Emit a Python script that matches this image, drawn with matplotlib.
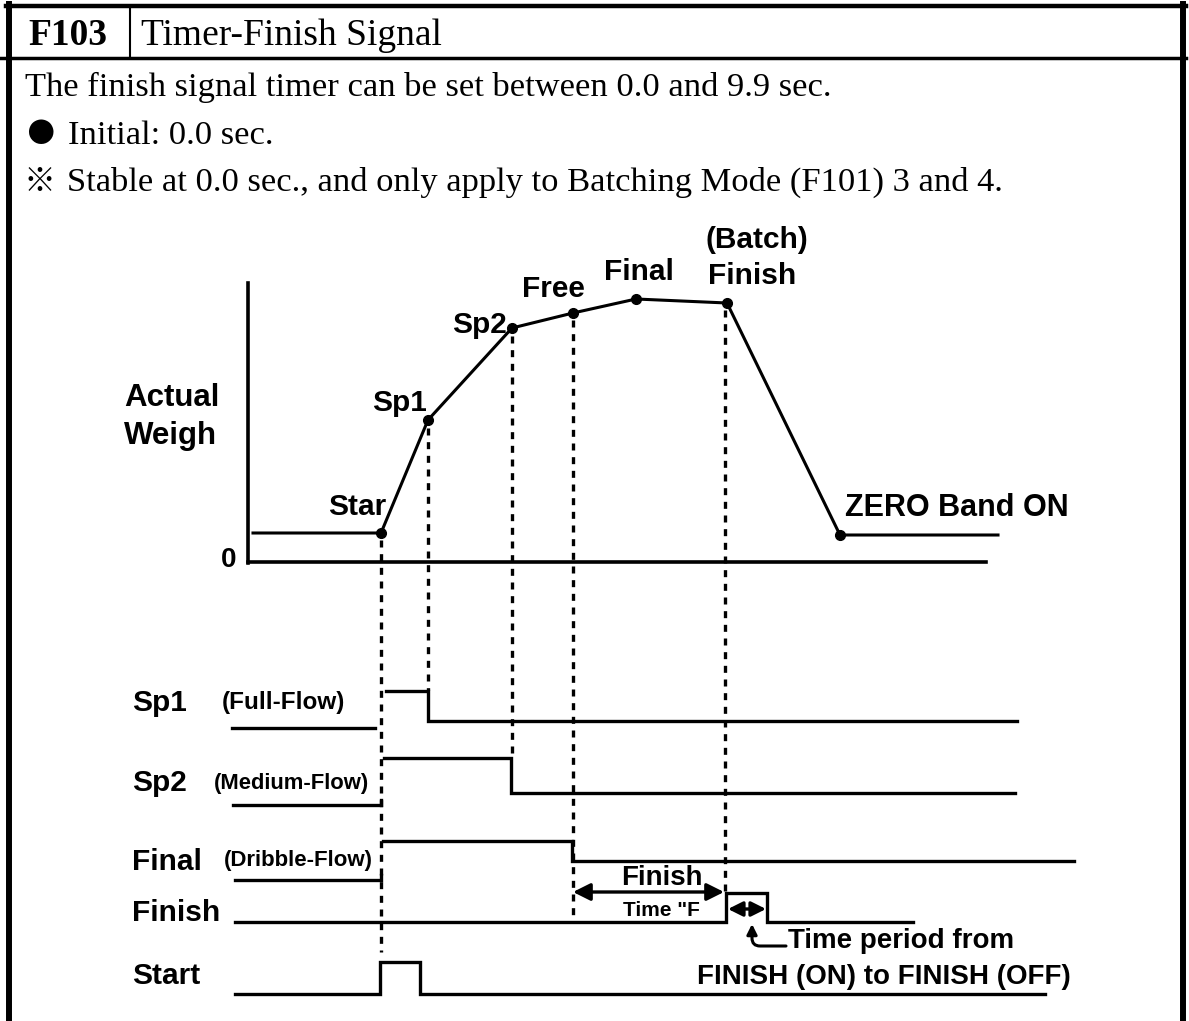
import matplotlib.pyplot as plt

W, H = 1189, 1021

# weight curve: time position and weight level (px rows)
curve_t = [253, 381, 428, 512, 573, 636, 727, 840, 998]
curve_w = [533, 533, 420, 328, 313, 299, 303, 535, 535]
dot_t = curve_t[1:8]
dot_w = curve_w[1:8]

# dashed guide lines: time, top, bottom
guide_t = [381, 428, 512, 573, 725]
guide_top = [540, 428, 336, 320, 310]
guide_bot = [952, 690, 758, 922, 893]

# timing signals (low part before start, main part)
sp1_pre = ([232, 375], [728, 728])
sp1_t = [386, 428, 428, 1017]
sp1_v = [691, 691, 721, 721]
sp2_pre = ([233, 381, 381], [805, 805, 800])
sp2_t = [384, 511, 511, 1015]
sp2_v = [758, 758, 793, 793]
fin_pre = ([235, 381, 381], [880, 880, 875])
fin_t = [383, 572, 572, 1074]
fin_v = [841, 841, 861, 861]
finish_t = [235, 726, 726, 767, 767, 913]
finish_v = [922, 922, 893, 893, 922, 922]
start_t = [235, 380, 380, 420, 420, 1045]
start_v = [994, 994, 962, 962, 994, 994]

serif = ['Liberation Serif', 'Noto Sans CJK JP', 'DejaVu Sans']
sans = ['Liberation Sans', 'DejaVu Sans']

fig = plt.figure(figsize=(W / 100, H / 100), dpi=100)
ax = fig.add_axes([0, 0, 1, 1])
ax.set_xlim(0, W)
ax.set_ylim(H, 0)
ax.axis('off')

k = 'black'
# frame
ax.plot([6, 1186], [6, 6], color=k, lw=3.2)
ax.plot([0, 1186], [58, 58], color=k, lw=2.5)
ax.plot([9, 9], [4, H], color=k, lw=4.3)
ax.plot([1183, 1183], [4, H], color=k, lw=4.3)
ax.plot([130, 130], [6, 58], color=k, lw=1.5)

ax.text(68, 45, 'F103', family=serif, weight='bold', fontsize=27, ha='center', va='baseline')
ax.text(141, 45, 'Timer-Finish Signal', family=serif, fontsize=27, va='baseline')
ax.text(25, 96, 'The finish signal timer can be set between 0.0 and 9.9 sec.',
        family=serif, fontsize=24.8, va='baseline')
ax.text(40, 134, '\u25cf', family=serif, fontsize=41, ha='center', va='center')
ax.text(68, 144, 'Initial: 0.0 sec.', family=serif, fontsize=24.8, va='baseline')
ax.text(40, 182, '\u203b', family=['Noto Sans CJK JP', 'DejaVu Sans'], fontsize=23,
        ha='center', va='center')
ax.text(67, 191, 'Stable at 0.0 sec., and only apply to Batching Mode (F101) 3 and 4.',
        family=serif, fontsize=24.8, va='baseline')

# weight axes
ax.plot([248, 248], [283, 563], color=k, lw=2.6)
ax.plot([248, 986], [562, 562], color=k, lw=2.6)
ax.plot(curve_t, curve_w, color=k, lw=2.2)
ax.plot(dot_t, dot_w, 'o', color=k, ms=7)

for t, y0, y1 in zip(guide_t, guide_top, guide_bot):
    ax.plot([t, t], [y0, y1], color=k, lw=2.4, dashes=(2.1, 2.0))

for tt, vv in [sp1_pre, (sp1_t, sp1_v), sp2_pre, (sp2_t, sp2_v), fin_pre, (fin_t, fin_v),
               (finish_t, finish_v), (start_t, start_v)]:
    ax.plot(tt, vv, color=k, lw=2.4, solid_joinstyle='miter')

b = dict(family=sans, weight='bold', va='center')
ax.text(124, 398, 'Actual', fontsize=22.5, **b)
ax.text(124, 436, 'Weigh', fontsize=22.5, **b)
ax.text(229, 560, '0', fontsize=20, ha='center', **b)
ax.text(386, 507, 'Star', fontsize=21.5, ha='right', **b)
ax.text(427, 403, 'Sp1', fontsize=21.5, ha='right', **b)
ax.text(507, 325, 'Sp2', fontsize=21.5, ha='right', **b)
ax.text(553, 289, 'Free', fontsize=21.5, ha='center', **b)
ax.text(639, 272, 'Final', fontsize=21.5, ha='center', **b)
ax.text(757, 240, '(Batch)', fontsize=21.5, ha='center', **b)
ax.text(752, 276, 'Finish', fontsize=21.5, ha='center', **b)
ax.text(845, 508, 'ZERO Band ON', fontsize=22, **b)

ax.text(132, 703, 'Sp1', fontsize=21.5, **b)
ax.text(222, 702, '(Full-Flow)', fontsize=17.5, **b)
ax.text(132, 783, 'Sp2', fontsize=21.5, **b)
ax.text(214, 783, '(Medium-Flow)', fontsize=15.8, **b)
ax.text(132, 862, 'Final', fontsize=21.5, **b)
ax.text(224, 860, '(Dribble-Flow)', fontsize=16, **b)
ax.text(132, 913, 'Finish', fontsize=21.5, **b)
ax.text(132, 976, 'Start', fontsize=21.5, **b)

ax.text(662, 878, 'Finish', fontsize=20, ha='center', **b)
ax.text(661, 910, 'Time "F', fontsize=15, ha='center', **b)
ax.annotate('', xy=(573, 892), xytext=(724, 892),
            arrowprops=dict(arrowstyle='<|-|>', color=k, lw=2.4, mutation_scale=26,
                            shrinkA=0, shrinkB=0))
ax.annotate('', xy=(728, 909), xytext=(766, 909),
            arrowprops=dict(arrowstyle='<|-|>', color=k, lw=2.4, mutation_scale=22,
                            shrinkA=0, shrinkB=0))
ax.annotate('', xy=(752, 924), xytext=(786, 946),
            arrowprops=dict(arrowstyle='-|>', color=k, lw=2.2, mutation_scale=15,
                            shrinkA=0, shrinkB=0, connectionstyle='angle,angleA=0,angleB=90,rad=8'))
ax.text(788, 941, 'Time period from', fontsize=20, **b)
ax.text(1071, 977, 'FINISH (ON) to FINISH (OFF)', fontsize=20, ha='right', **b)

fig.savefig('out.png', dpi=100)
